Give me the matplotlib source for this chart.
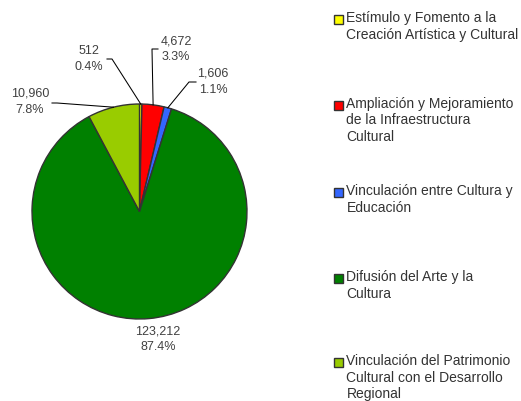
import matplotlib.pyplot as plt
import numpy as np
from matplotlib.patches import Rectangle

categories = [
    "Estímulo y Fomento a la\nCreación Artística y Cultural",
    "Ampliación y Mejoramiento\nde la Infraestructura\nCultural",
    "Vinculación entre Cultura y\nEducación",
    "Difusión del Arte y la\nCultura",
    "Vinculación del Patrimonio\nCultural con el Desarrollo\nRegional",
]
values = [512, 4672, 1606, 123212, 10960]
colors = ["#FFFF00", "#FF0000", "#3366FF", "#008000", "#99CC00"]

# label text centres (pixels, from top-left), elbow and end of leader line
label_pos = [(89, 58.5), (176, 49), (213, 82), (158, 339.5), (30, 102)]
elbows = [(112, 59), (152, 49), (189, 82), None, (57, 103)]
label_ends = [(107, 59), (158, 49), (196, 82), None, (52, 103)]

W, H = 521, 401
plt.rcParams['font.family'] = ['Liberation Sans', 'DejaVu Sans']
fig = plt.figure(figsize=(W / 100, H / 100), dpi=100)
ax = fig.add_axes([0, 0, 1, 1])

cx, cy, r = 139.5, H - 211.5, 107.5
total = sum(values)
wedges, _ = ax.pie(values, colors=colors, startangle=90, counterclock=False,
                   center=(cx, cy), radius=r, frame=True,
                   wedgeprops={'edgecolor': '#333333', 'linewidth': 1.0})
ax.set_xlim(0, W)
ax.set_ylim(0, H)
ax.axis('off')

txt_color = '#404040'
for i, w in enumerate(wedges):
    mid = np.deg2rad((w.theta1 + w.theta2) / 2)
    px = cx + r * np.cos(mid)
    py = cy + r * np.sin(mid)
    pct = values[i] / total * 100
    lx, ly = label_pos[i]
    lines = ["{:,}".format(values[i]), "{:.1f}%".format(pct)]
    for k, s in enumerate(lines):
        ax.text(lx, H - (ly - 8 + 16 * k), s, ha='center', va='center',
                fontsize=9, color=txt_color)
    if elbows[i] is not None:
        ex, ey = elbows[i]
        fx, fy = label_ends[i]
        ax.plot([px, ex, fx], [py, H - ey, H - fy], color='black', lw=0.75)

# legend, drawn by hand to keep the fixed pitch of the original
leg_y = [18, 104, 191, 277, 361]
for i, lab in enumerate(categories):
    y = leg_y[i]
    ax.add_patch(Rectangle((334, H - y - 5.5), 9, 9, facecolor=colors[i],
                           edgecolor='#333333', lw=1.0))
    for k, s in enumerate(lab.split('\n')):
        ax.text(346.5, H - (y + 16.5 * k), s, ha='left', va='center',
                fontsize=10, color='#333333')

fig.savefig('out.png', dpi=100)
